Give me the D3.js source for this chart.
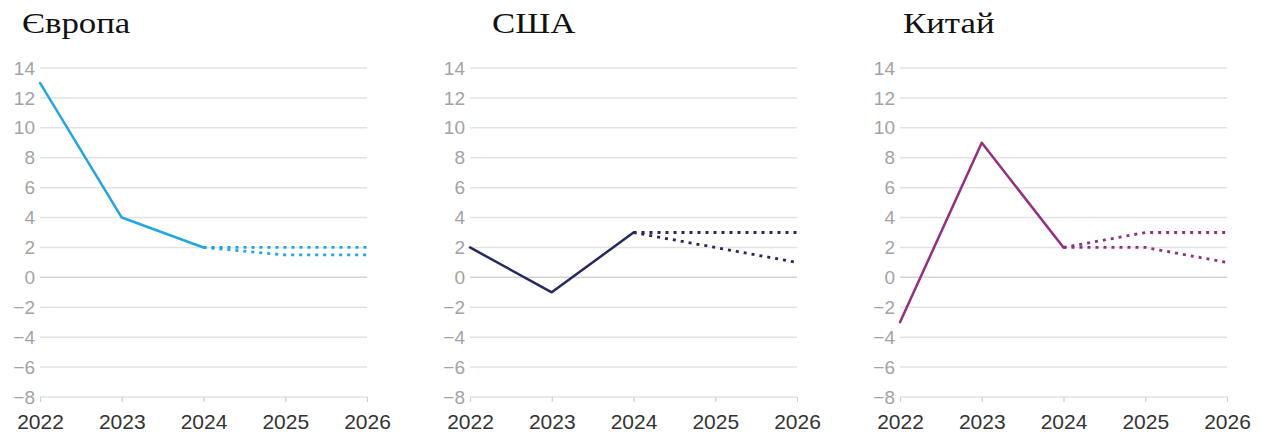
<!DOCTYPE html>
<html>
<head>
<meta charset="utf-8">
<script src="https://cdn.jsdelivr.net/npm/d3@7"></script>
<style>
  html, body { margin: 0; padding: 0; background: #fff; }
  svg { display: block; }
</style>
</head>
<body>
<svg id="chart" width="1262" height="435"></svg>
<script>
// Years on the horizontal axis and the y-axis tick values
const years = [2022, 2023, 2024, 2025, 2026];
const yTicks = [-8, -6, -4, -2, 0, 2, 4, 6, 8, 10, 12, 14];

// Region titles and colours
const regions = ["Європа", "США", "Китай"];
const colors = ["#22a6e0", "#25295e", "#92307f"];

// Actual values, 2022–2024
const actualEurope = [13, 4, 2];
const actualUSA = [2, -1, 3];
const actualChina = [-3, 9, 2];

// Forecast scenarios, 2024–2026 (upper and lower)
const forecastEuropeHigh = [2, 2, 2];
const forecastEuropeLow = [2, 1.5, 1.5];
const forecastUSAHigh = [3, 3, 3];
const forecastUSALow = [3, 2, 1];
const forecastChinaHigh = [2, 3, 3];
const forecastChinaLow = [2, 2, 1];

const panels = [
  { title: regions[0], color: colors[0], actual: actualEurope, forecasts: [forecastEuropeHigh, forecastEuropeLow] },
  { title: regions[1], color: colors[1], actual: actualUSA, forecasts: [forecastUSAHigh, forecastUSALow] },
  { title: regions[2], color: colors[2], actual: actualChina, forecasts: [forecastChinaHigh, forecastChinaLow] }
];

const svg = d3.select("#chart");
const panelLeft = [40, 470, 900];
const panelWidth = 327;
const titleX = [22, 492, 903];
const plotTop = 68, plotBottom = 397;

const y = d3.scaleLinear().domain([-8, 14]).range([plotBottom, plotTop]);

panels.forEach((p, i) => {
  const x0 = panelLeft[i];
  const x = d3.scalePoint().domain(years).range([x0, x0 + panelWidth]);
  const g = svg.append("g");

  // title (slightly widened serif)
  g.append("text")
    .attr("transform", `translate(${titleX[i]},33) scale(1.2,1)`)
    .attr("font-family", "'Liberation Serif', 'Times New Roman', serif")
    .attr("font-size", 29)
    .attr("fill", "#111")
    .text(p.title);

  // horizontal grid lines
  g.selectAll("line.grid").data(yTicks).join("line")
    .attr("class", "grid")
    .attr("x1", x0).attr("x2", x0 + panelWidth)
    .attr("y1", d => y(d)).attr("y2", d => y(d))
    .attr("stroke", d => d === 0 ? "#d4d4d4" : "#e3e3e3")
    .attr("stroke-width", 1.5);

  // y tick labels
  g.selectAll("text.ylab").data(yTicks).join("text")
    .attr("class", "ylab")
    .attr("x", x0 - 5).attr("y", d => y(d))
    .attr("dy", "0.35em")
    .attr("text-anchor", "end")
    .attr("font-family", "'Liberation Sans', Arial, sans-serif")
    .attr("font-size", 19)
    .attr("fill", "#a3a3a3")
    .text(d => d < 0 ? "\u2212" + Math.abs(d) : d);

  // bottom axis with small ticks
  const xAxis = d3.axisBottom(x).tickSize(5).tickPadding(8).tickFormat(d3.format("d"));
  const ax = g.append("g").attr("transform", `translate(0,${plotBottom})`).call(xAxis);
  ax.select(".domain").remove();
  ax.selectAll(".tick line").attr("stroke", "#cfcfcf").attr("stroke-width", 1.2)
    .attr("y1", 0).attr("y2", 5);
  ax.selectAll(".tick text")
    .attr("font-family", "'Liberation Sans', Arial, sans-serif")
    .attr("font-size", 21)
    .attr("fill", "#333")
    .attr("y", 17).attr("dy", "0.71em");

  // actual values
  const line = d3.line().x(d => x(d[0])).y(d => y(d[1]));
  g.append("path")
    .datum(years.slice(0, 3).map((yr, k) => [yr, p.actual[k]]))
    .attr("d", line)
    .attr("fill", "none")
    .attr("stroke", p.color)
    .attr("stroke-width", 2.5)
    .attr("stroke-linejoin", "round")
    .attr("stroke-linecap", "round");

  // forecast scenarios, dotted
  p.forecasts.forEach(f => {
    g.append("path")
      .datum(years.slice(2).map((yr, k) => [yr, f[k]]))
      .attr("d", line)
      .attr("fill", "none")
      .attr("stroke", p.color)
      .attr("stroke-width", 2.8)
      .attr("stroke-dasharray", "3,5");
  });
});
</script>
</body>
</html>
